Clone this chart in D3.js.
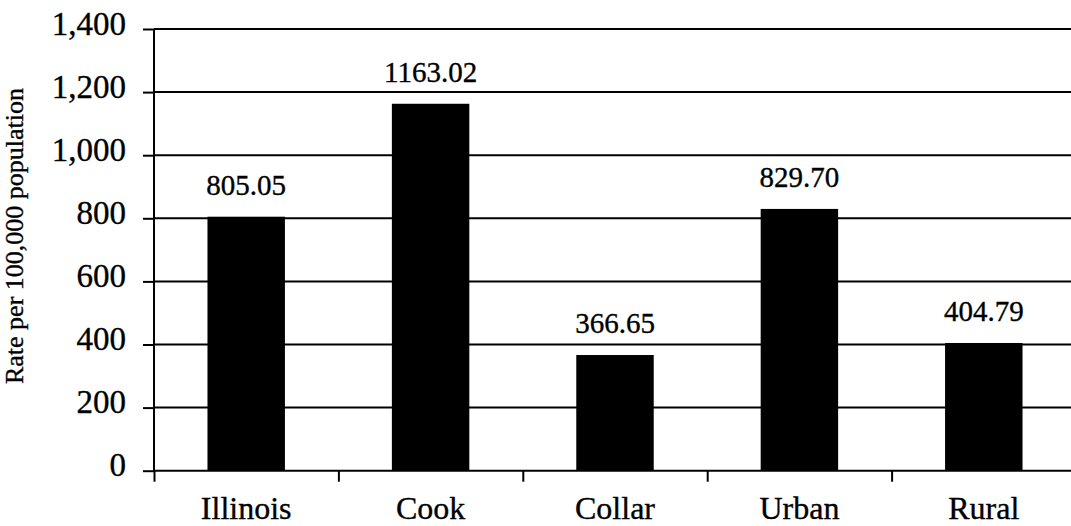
<!DOCTYPE html>
<html>
<head>
<meta charset="utf-8">
<script src="https://cdn.jsdelivr.net/npm/d3@7"></script>
<style>
  html, body { margin: 0; padding: 0; background: #fff; }
  svg { display: block; }
  text { font-family: "Liberation Serif", "Times New Roman", serif; fill: #000; stroke: #000; stroke-width: 0.35px; }
</style>
</head>
<body>
<svg id="chart" width="1071" height="526"></svg>
<script>
const categories = ["Illinois", "Cook", "Collar", "Urban", "Rural"];
const values = [805.05, 1163.02, 366.65, 829.70, 404.79];
const valueLabels = ["805.05", "1163.02", "366.65", "829.70", "404.79"];
const yTicks = [0, 200, 400, 600, 800, 1000, 1200, 1400];
const yTitle = "Rate per 100,000 population";

(function () {
const svg = d3.select("#chart");
const pLeft = 154, pRight = 1076, pTop = 29, pBottom = 470.7;

const y = d3.scaleLinear().domain([0, 1400]).range([pBottom, pTop]);
const x = d3.scaleBand().domain(categories).range([pLeft, pRight])
  .paddingInner(0.58).paddingOuter(0.29);
const xb = d3.scaleLinear().domain([0, categories.length]).range([pLeft, pRight]);

// gridlines
svg.append("g").selectAll("line").data(yTicks.slice(1)).join("line")
  .attr("x1", pLeft).attr("x2", 1071)
  .attr("y1", d => y(d)).attr("y2", d => y(d))
  .attr("stroke", "#000").attr("stroke-width", 2);

// bars
svg.append("g").selectAll("rect").data(values).join("rect")
  .attr("x", (d, i) => x(categories[i]))
  .attr("width", x.bandwidth())
  .attr("y", d => y(d))
  .attr("height", d => y(0) - y(d))
  .attr("fill", "#000");

// y axis
const yAxis = svg.append("g").attr("transform", `translate(${pLeft},0)`)
  .call(d3.axisLeft(y).tickValues(yTicks).tickSize(11).tickPadding(17).tickFormat(d3.format(",")));
yAxis.select(".domain").remove();
yAxis.selectAll(".tick line").attr("stroke", "#000").attr("stroke-width", 2);
yAxis.selectAll(".tick text").attr("font-size", 33).attr("dy", null).attr("y", 5)
  .attr("font-family", "Liberation Serif");

// x axis boundary ticks
const xAxis = svg.append("g").attr("transform", `translate(0,${pBottom})`)
  .call(d3.axisBottom(xb).tickValues(d3.range(0, categories.length + 1)).tickSize(11).tickFormat(""));
xAxis.select(".domain").attr("d", `M${pLeft},0H1071`).attr("stroke", "#000").attr("stroke-width", 2);
xAxis.selectAll(".tick line").attr("stroke", "#000").attr("stroke-width", 2);

// vertical axis line
svg.append("line").attr("x1", pLeft).attr("x2", pLeft).attr("y1", pTop).attr("y2", pBottom)
  .attr("stroke", "#000").attr("stroke-width", 2);

// category labels
svg.append("g").selectAll("text").data(categories).join("text")
  .attr("x", d => x(d) + x.bandwidth() / 2)
  .attr("y", 519)
  .attr("text-anchor", "middle")
  .attr("font-size", 32)
  .text(d => d);

// value labels
svg.append("g").selectAll("text").data(values).join("text")
  .attr("x", (d, i) => x(categories[i]) + x.bandwidth() / 2)
  .attr("y", d => y(d) - 22)
  .attr("text-anchor", "middle")
  .attr("font-size", 29)
  .text((d, i) => valueLabels[i]);

// y title
svg.append("text")
  .attr("transform", `translate(23,236) rotate(-90)`)
  .attr("text-anchor", "middle")
  .attr("font-size", 26)
  .text(yTitle);
})();
</script>
</body>
</html>
